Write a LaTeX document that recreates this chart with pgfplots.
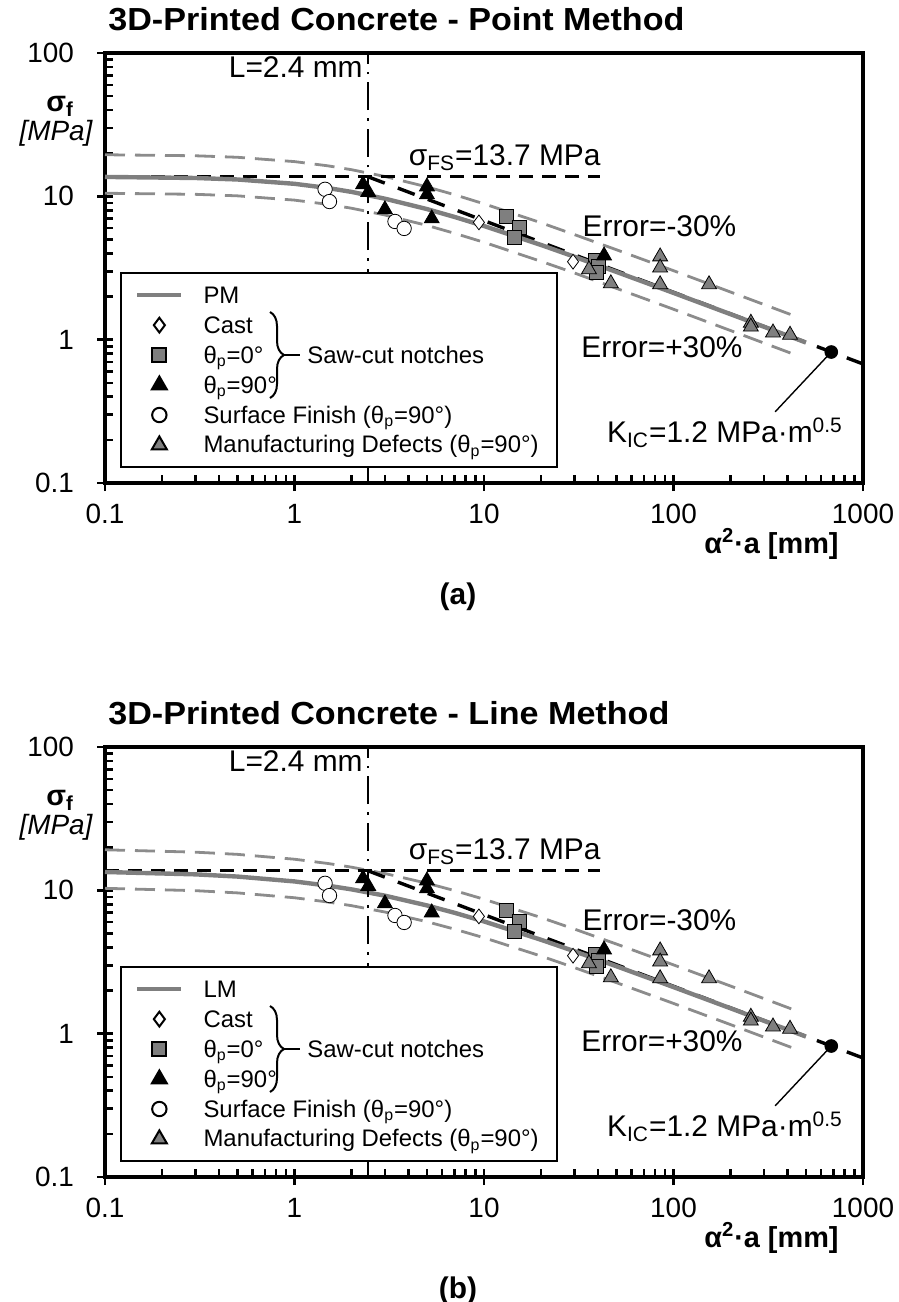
\documentclass[border=0pt]{standalone}
\usepackage{fontspec}
\setmainfont{Liberation Sans}
\usepackage{pgfplots}
\usepackage{pgfplotstable}
\pgfplotsset{compat=1.18}
\usetikzlibrary{decorations.pathreplacing}

\definecolor{mgray}{HTML}{7F7F7F}
\definecolor{lgray}{HTML}{8C8C8C}
\newcommand{\ls}{\rule[-4.5bp]{0pt}{14bp}}
\newcommand{\tp}{θ\textsubscript{p}}
\newcommand{\ann}{\fontsize{15}{17}\selectfont}

% test data (same in both panels)
\pgfplotstableread{
x y
9.4 6.58
29.5 3.5
}\castdata
\pgfplotstableread{
x y
13.2 7.25
15.3 6.07
14.4 5.16
38.5 3.55
40 3.25
39 2.95
}\sqdata
\pgfplotstableread{
x y
2.3 12.1
2.45 10.7
3.0 8.1
5.0 11.7
5.0 10.3
5.3 7.0
43 3.86
}\btdata
\pgfplotstableread{
x y
1.45 11.2
1.53 9.2
3.39 6.68
3.79 5.97
}\surfdata
\pgfplotstableread{
x y
35.8 3.09
46.7 2.47
85 3.8
85 3.18
85 2.43
154 2.43
256 1.31
256 1.23
335 1.12
412 1.08
}\defdata

% point method curve and +-30% bands
\pgfplotstableread{
x y
0.1 13.66
0.3 13.43
0.5 13.11
1 12.23
1.5 11.43
2 10.74
3 9.63
5 8.15
7 7.18
10 6.21
20 4.58
30 3.79
50 2.97
100 2.12
200 1.506
450 1.007
500 0.955
}\pmcurve
\pgfplotstableread{
x up lo
0.1 19.51 10.51
0.3 19.19 10.33
0.5 18.73 10.08
1 17.47 9.41
1.5 16.33 8.79
2 15.34 8.26
3 13.76 7.41
5 11.64 6.27
7 10.26 5.52
10 8.87 4.78
20 6.54 3.52
30 5.41 2.92
50 4.24 2.28
100 3.03 1.63
200 2.15 1.158
450 1.44 0.775
}\pmband

% line method
\pgfplotstableread{
x y
0.1 13.43
0.3 12.93
0.5 12.48
1 11.54
1.5 10.78
2 10.16
3 9.18
5 7.85
7 6.97
10 6.07
20 4.52
30 3.76
50 2.955
100 2.114
200 1.504
450 1.006
500 0.955
}\lmcurve
\pgfplotstableread{
x up lo
0.1 19.19 10.33
0.3 18.47 9.95
0.5 17.83 9.60
1 16.49 8.88
1.5 15.40 8.29
2 14.51 7.82
3 13.11 7.06
5 11.21 6.04
7 9.96 5.36
10 8.67 4.67
20 6.46 3.48
30 5.37 2.89
50 4.22 2.27
100 3.02 1.626
200 2.15 1.157
450 1.437 0.774
}\lmband

\pgfplotsset{
  every axis/.append style={
    scale only axis, width=379bp, height=215bp,
    xmin=0.1, xmax=1000, ymin=0.1, ymax=100,
    xtick={0.1,1,10,100,1000}, xticklabels={0.1,1,10,100,1000},
    ytick={0.1,1,10,100}, yticklabels={0.1,1,10,100},
    xtick pos=bottom, ytick pos=left,
    axis line style={line width=2bp},
    tick align=center, major tick length=8bp, minor tick length=4bp,
    every tick/.style={black, line width=1.3bp},
    minor x tick style={yshift=2bp}, minor y tick style={xshift=2bp},
    tick label style={font=\fontsize{14}{16}\selectfont},
    xticklabel style={yshift=-3bp},
    yticklabel style={xshift=-8bp},
    legend style={at={(0.02,0.035)}, anchor=south west, draw=black, line width=1bp,
      fill=white, font=\fontsize{12}{14}\selectfont, inner xsep=7bp, inner ysep=3.5bp,
      column sep=8bp, row sep=0bp},
    legend cell align=left,
  },
  my band/.style={lgray, line width=1.4bp, dash pattern=on 10bp off 5bp},
  my fs/.style={black, line width=1.7bp, dash pattern=on 7bp off 4.5bp},
  my lefm/.style={black, line width=1.7bp, dash pattern=on 9bp off 7bp},
  my curve/.style={mgray, line width=2.2bp,
    legend image code/.code={\draw[##1] (0bp,0bp) -- (22bp,0bp);}},
  my lline/.style={black, line width=0.9bp, dash pattern=on 14bp off 4bp on 1.3bp off 4bp},
  my pts/.style={only marks, mark options={line width=0.8bp, draw=black, solid},
    legend image code/.code={\draw[##1] plot coordinates {(11bp,0bp)};}},
}

\newcommand{\panelplots}[2]{%
  \addplot[forget plot, my band] table[x=x, y=up] {#2};
  \addplot[forget plot, my band] table[x=x, y=lo] {#2};
  \addplot[forget plot, my fs] coordinates {(0.1,13.7) (41,13.7)};
  \addplot[forget plot, my lefm] coordinates {(2.44,13.7) (1000,0.677)};
  \addplot[my curve] table[x=x, y=y] {#1};
  \addplot[forget plot, my lline] coordinates {(2.44,0.1) (2.44,100)};
  \addplot[my pts, mark=diamond*, mark size=3.7bp, mark options={fill=white}] table {\castdata};
  \addplot[my pts, mark=square*, mark size=3.5bp, mark options={fill=mgray}] table {\sqdata};
  \addplot[my pts, mark=triangle*, mark size=4.3bp, mark options={fill=black}] table {\btdata};
  \addplot[my pts, mark=*, mark size=3.6bp, mark options={fill=white}] table {\surfdata};
  \addplot[my pts, mark=triangle*, mark size=4.3bp, mark options={fill=mgray}] table {\defdata};
  \addplot[forget plot, only marks, mark=*, mark size=3.2bp, black] coordinates {(680,0.82)};
  \draw[line width=0.7bp] (axis cs:680,0.82) -- (axis cs:344,0.314);
  \node[anchor=east, inner sep=0pt, font=\ann] at (axis cs:2.3,80) {L=2.4 mm};
  \node[anchor=west, inner sep=0pt, font=\ann] at (axis cs:4.0,18.7) {σ\textsubscript{FS}=13.7 MPa};
  \node[anchor=west, inner sep=0pt, font=\ann] at (axis cs:33,6.2) {Error=-30\%};
  \node[anchor=west, inner sep=0pt, font=\ann] at (axis cs:32.5,0.88) {Error=+30\%};
  \node[inner sep=0pt, font=\ann] at (axis cs:187,0.224) {K\textsubscript{IC}=1.2 MPa·m\textsuperscript{0.5}};
}

\newcommand{\sideparts}[3]{% y offset, title, panel tag
  \begin{scope}[yshift=#1]
  \node[anchor=west, inner sep=0pt, font=\fontsize{16}{18}\selectfont\bfseries] at (54bp,-9.5bp) {\scalebox{1.07}[1]{#2}};
  \node[inner sep=0pt, font=\fontsize{14.5}{16}\selectfont\bfseries] at (30bp,-53bp) {σ\textsubscript{f}};
  \node[inner sep=0pt, font=\fontsize{14}{16}\selectfont\itshape] at (28bp,-66.5bp) {[MPa]};
  \node[anchor=east, inner sep=0pt, font=\fontsize{14.5}{16}\selectfont\bfseries] at (419.5bp,-272bp) {α\textsuperscript{2}·a [mm]};
  \node[inner sep=0pt, font=\fontsize{15}{17}\selectfont\bfseries] at (229bp,-298.5bp) {#3};
  \draw[line width=1bp, decorate, decoration={brace, amplitude=7bp}] (135bp,-156bp) -- (135bp,-199bp);
  \draw[line width=1bp] (142bp,-177.5bp) -- (150bp,-177.5bp);
  \node[anchor=west, inner sep=0pt, font=\fontsize{12}{14}\selectfont] at (153.5bp,-177.5bp) {Saw-cut notches};
  \end{scope}
}

\begin{document}
\begin{tikzpicture}
\useasboundingbox (0bp,0bp) rectangle (449.5bp,-651bp);
\begin{loglogaxis}[at={(52.5bp,-241.5bp)}, anchor=south west,
  legend entries={\ls PM, \ls Cast, \ls\tp=0°, \ls\tp=90°, \ls Surface Finish (\tp=90°), \ls Manufacturing Defects (\tp=90°)}]
\panelplots{\pmcurve}{\pmband}
\end{loglogaxis}
\sideparts{0bp}{3D-Printed Concrete - Point Method}{(a)}

\begin{loglogaxis}[at={(52.5bp,-588.5bp)}, anchor=south west,
  legend entries={\ls LM, \ls Cast, \ls\tp=0°, \ls\tp=90°, \ls Surface Finish (\tp=90°), \ls Manufacturing Defects (\tp=90°)}]
\panelplots{\lmcurve}{\lmband}
\end{loglogaxis}
\sideparts{-347bp}{3D-Printed Concrete - Line Method}{(b)}
\end{tikzpicture}
\end{document}
